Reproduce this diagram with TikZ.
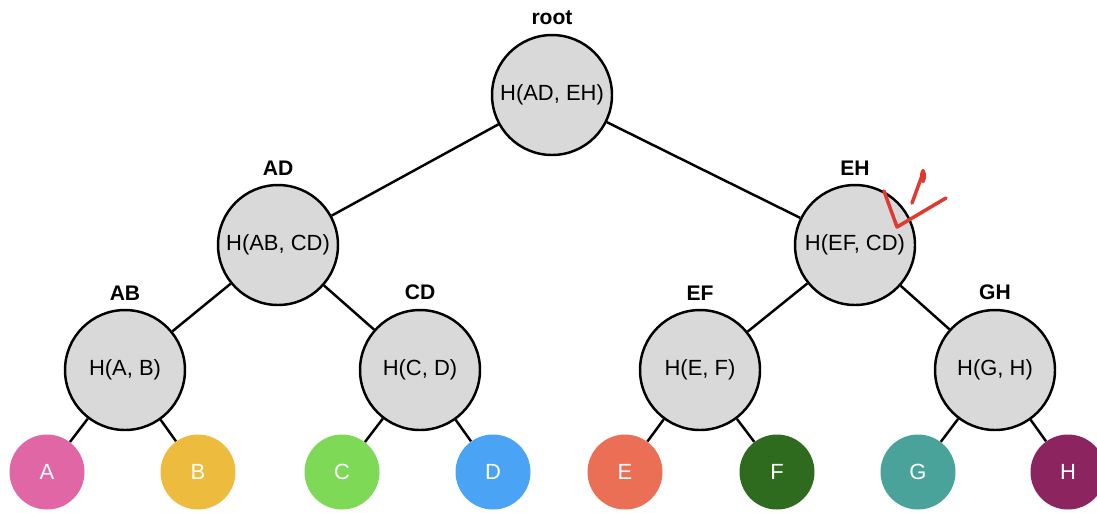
\documentclass[tikz,border=0pt]{standalone}
\usepackage{fontspec}
\setmainfont{Liberation Sans}
\usetikzlibrary{positioning}

\definecolor{hashGray}{HTML}{D9D9D9}
\definecolor{leafA}{HTML}{E066A6}
\definecolor{leafB}{HTML}{EDBB3E}
\definecolor{leafC}{HTML}{7ED957}
\definecolor{leafD}{HTML}{4BA3F5}
\definecolor{leafE}{HTML}{EB6F55}
\definecolor{leafF}{HTML}{2E6B1E}
\definecolor{leafG}{HTML}{4AA39A}
\definecolor{leafH}{HTML}{8C2460}
\definecolor{markRed}{HTML}{E03A30}

\tikzset{
  hashNode/.style = {circle, draw, fill = hashGray, line width = 1.4pt, minimum size = 2.4cm, inner sep = 0pt, font = \fontsize{12.5}{15}\selectfont},
  leafNode/.style = {circle, fill = #1, minimum size = 1.5cm, inner sep = 0pt, text = white, font = \fontsize{12.5}{15}\selectfont},
  nameLabel/.style = {font = \fontsize{12}{14}\selectfont\bfseries, label distance = 0.05cm},
  treeEdge/.style = {line width = 1.4pt}
}

\begin{document}
\begin{tikzpicture}[x = 0.02cm, y = -0.02cm]
        \useasboundingbox (0, 0) rectangle (1097, 512);

        % internal hashes
        \node[hashNode, label = {[nameLabel]above:root}] (rootNode) at (552, 95) {H(AD, EH)};
        \node[hashNode, label = {[nameLabel]above:AD}] (adNode) at (278, 245) {H(AB, CD)};
        \node[hashNode, label = {[nameLabel]above:EH}] (ehNode) at (855, 245) {H(EF, CD)};
        \node[hashNode, label = {[nameLabel]above:AB}] (abNode) at (125, 370) {H(A, B)};
        \node[hashNode, label = {[nameLabel]above:CD}] (cdNode) at (420, 370) {H(C, D)};
        \node[hashNode, label = {[nameLabel]above:EF}] (efNode) at (700, 370) {H(E, F)};
        \node[hashNode, label = {[nameLabel]above:GH}] (ghNode) at (995, 370) {H(G, H)};

        % leaves
        \node[leafNode = leafA] (aLeaf) at (47, 472) {A};
        \node[leafNode = leafB] (bLeaf) at (198, 472) {B};
        \node[leafNode = leafC] (cLeaf) at (342, 472) {C};
        \node[leafNode = leafD] (dLeaf) at (493, 472) {D};
        \node[leafNode = leafE] (eLeaf) at (625, 472) {E};
        \node[leafNode = leafF] (fLeaf) at (777, 472) {F};
        \node[leafNode = leafG] (gLeaf) at (918, 472) {G};
        \node[leafNode = leafH] (hLeaf) at (1068, 472) {H};

        \draw[treeEdge] (rootNode) -- (adNode);
        \draw[treeEdge] (rootNode) -- (ehNode);
        \draw[treeEdge] (adNode) -- (abNode);
        \draw[treeEdge] (adNode) -- (cdNode);
        \draw[treeEdge] (ehNode) -- (efNode);
        \draw[treeEdge] (ehNode) -- (ghNode);
        \draw[treeEdge] (abNode) -- (aLeaf);
        \draw[treeEdge] (abNode) -- (bLeaf);
        \draw[treeEdge] (cdNode) -- (cLeaf);
        \draw[treeEdge] (cdNode) -- (dLeaf);
        \draw[treeEdge] (efNode) -- (eLeaf);
        \draw[treeEdge] (efNode) -- (fLeaf);
        \draw[treeEdge] (ghNode) -- (gLeaf);
        \draw[treeEdge] (ghNode) -- (hLeaf);

        % red check mark
        \draw[markRed, line width = 2pt, line cap = round, line join = round] (884, 191) -- (897, 227) -- (946, 198);
        \draw[markRed, line width = 2pt, line cap = round] (923, 173) -- (912, 203);
        \fill[markRed] (923, 176) ellipse (3 and 7);
      \end{tikzpicture}
\end{document}
